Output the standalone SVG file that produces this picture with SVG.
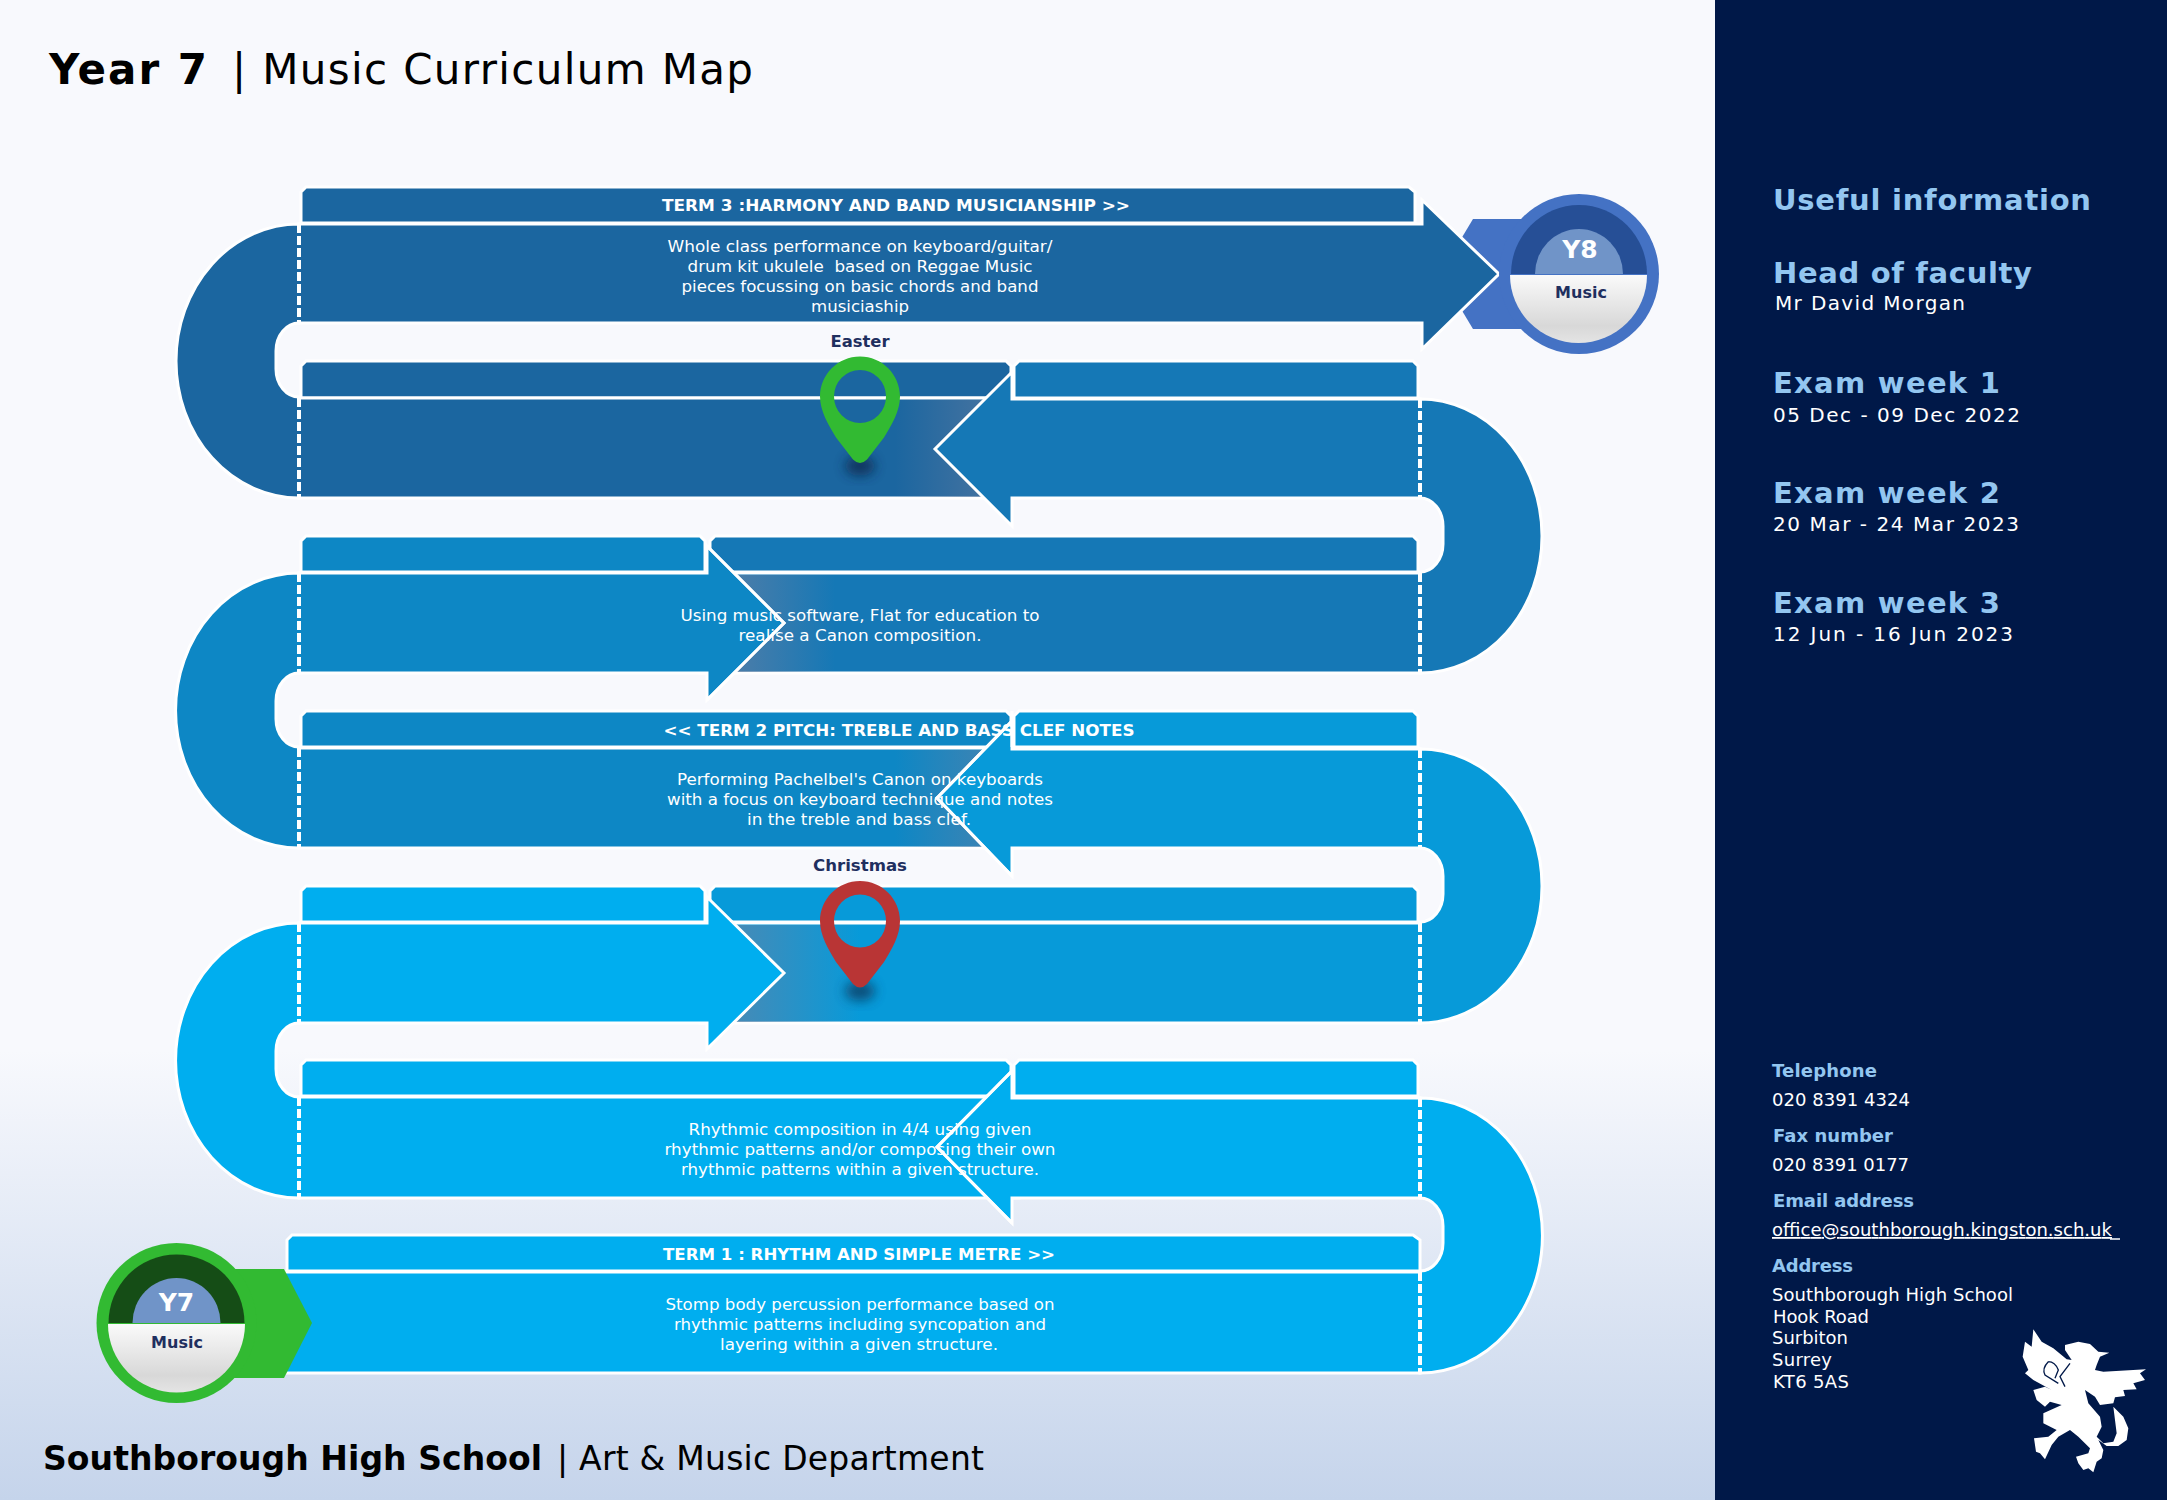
<svg xmlns="http://www.w3.org/2000/svg" width="2167" height="1500" viewBox="0 0 2167 1500">
<style>
text{font-family:"DejaVu Sans",Verdana,sans-serif;}
.w{fill:#fff;font-size:16.5px;}
.h{fill:#fff;font-size:16.5px;font-weight:bold;}
.d{fill:#1f2f5f;font-size:16.5px;font-weight:bold;}
.m{text-anchor:middle;}
.l1{fill:#93c6f0;font-size:29px;font-weight:bold;}
.l2{fill:#93c6f0;font-size:18px;font-weight:bold;}
.v1{fill:#fff;font-size:20px;}
.v2{fill:#fff;font-size:18px;}
.o{stroke:#fff;stroke-width:3;stroke-linejoin:miter;}
.ol{fill:none;stroke:#fff;stroke-width:3;}
.dash{fill:none;stroke:#fff;stroke-width:4;stroke-dasharray:9 3;}
.under{fill:none;stroke-width:4;}
.c1{fill:#1b66a0;}.c2{fill:#1578b6;}.c3{fill:#0d87c5;}.c4{fill:#079ad9;}.c5{fill:#00aeef;}
.y{fill:#fff;font-size:25px;font-weight:bold;text-anchor:middle;}
.mu{fill:#1f2f5f;font-size:16px;font-weight:bold;text-anchor:middle;}
</style>
<defs>
<linearGradient id="bg" x1="0" y1="0" x2="0" y2="1"><stop offset="0" stop-color="#f8f9fd"/><stop offset=".7" stop-color="#f8f9fd"/><stop offset="1" stop-color="#c5d4eb"/></linearGradient>
<linearGradient id="silver" x1="0" y1="0" x2="0" y2="1"><stop offset="0" stop-color="#fafafa"/><stop offset=".75" stop-color="#d8d8d8"/><stop offset="1" stop-color="#e4e4e4"/></linearGradient>
<linearGradient id="shL" x1="0" y1="0" x2="1" y2="0"><stop offset="0" stop-color="#7080a0" stop-opacity="0"/><stop offset="1" stop-color="#7080a0" stop-opacity=".6"/></linearGradient>
<linearGradient id="shR" x1="0" y1="0" x2="1" y2="0"><stop offset="0" stop-color="#7080a0" stop-opacity=".6"/><stop offset="1" stop-color="#7080a0" stop-opacity="0"/></linearGradient>
<filter id="blur" x="-50%" y="-50%" width="200%" height="200%"><feGaussianBlur stdDeviation="6"/></filter>
<path id="pin" fill-rule="evenodd" d="M860 881C882 881 900 899 900 921C900 935 892 949 884 962L867 984Q860 991 853 984L836 962C828 949 820 935 820 921C820 899 838 881 860 881ZM860 894.500A26 26.500 0 1 0 860.010 947.500A26 26.500 0 1 0 860 894.500Z"/>
</defs>
<rect id="page" width="1715" height="1500" fill="url(#bg)"/>
<rect id="panel" x="1715" width="452" height="1500" fill="#001848"/>
<g id="title">
<text x="49" y="84" font-size="42" font-weight="bold" textLength="158">Year 7</text>
<text x="232" y="84" font-size="42" textLength="521">| Music Curriculum Map</text>
</g>
<g id="connectors">
<path class="c1 o" d="M299 224A123 137 0 0 0 299 498V397A23 28 0 0 1 276 369V351A23 28 0 0 1 299 323Z"/>
<path class="c3 o" d="M299 573A123 137 0 0 0 299 848V747A23 28 0 0 1 276 719V701A23 28 0 0 1 299 673Z"/>
<path class="c5 o" d="M299 923A123 137 0 0 0 299 1198V1097A23 28 0 0 1 276 1069V1051A23 28 0 0 1 299 1023Z"/>
<path class="c2 o" d="M1420 399A122 137 0 0 1 1420 673V572A23 28 0 0 0 1443 544V526A23 28 0 0 0 1420 498Z"/>
<path class="c4 o" d="M1420 749A122 137 0 0 1 1420 1023V922A23 28 0 0 0 1443 894V876A23 28 0 0 0 1420 848Z"/>
<path class="c5 o" d="M1420 1098A122 137 0 0 1 1420 1373V1271A23 28 0 0 0 1443 1243V1226A23 28 0 0 0 1420 1198Z"/>
</g>
<g id="y8-tab"><polygon points="1473,219 1560,219 1560,329 1473,329 1440,274" fill="#4472c4"/></g>
<g id="term3">
<path class="c1 o" d="M301 223V192L306 187H1409L1415 192V223Z"/>
<path class="c1 o" d="M299 224H1422V200L1499 274L1422 349V323H299Z"/>
<text class="h m" x="896" y="211" textLength="468" lengthAdjust="spacingAndGlyphs">TERM 3 :HARMONY AND BAND MUSICIANSHIP &gt;&gt;</text>
<text class="w m" x="860" y="252" textLength="385" lengthAdjust="spacingAndGlyphs">Whole class performance on keyboard/guitar/</text>
<text class="w m" x="860" y="272" textLength="345" lengthAdjust="spacingAndGlyphs" xml:space="preserve">drum kit ukulele  based on Reggae Music</text>
<text class="w m" x="860" y="292" textLength="357" lengthAdjust="spacingAndGlyphs">pieces focussing on basic chords and band</text>
<text class="w m" x="860" y="312" textLength="98" lengthAdjust="spacingAndGlyphs">musiciaship</text>
</g>
<g id="easter"><text class="d m" x="860" y="347" textLength="59" lengthAdjust="spacingAndGlyphs">Easter</text></g>
<g id="row2">
<path class="c1 o" d="M301 398V366L306 361H1006L1011 366V398Z"/>
<rect class="c1 o" x="299" y="398" width="720" height="100"/>
<rect x="895" y="400" width="115" height="97" fill="url(#shL)"/>
<path class="c2 o" d="M1014 398V366L1019 361H1413L1418 366V398Z"/>
<path class="c2 o" d="M1420 399H1012V372L935 449L1012 526V498H1420Z"/>
</g>
<g id="row3">
<path class="c2 o" d="M710 572V541L715 536H1413L1418 541V572Z"/>
<rect class="c2 o" x="700" y="573" width="720" height="100"/>
<rect x="735" y="575" width="100" height="97" fill="url(#shR)"/>
<path class="c3 o" d="M301 572V541L306 536H700L705 541V572Z"/>
<path class="c3 o" d="M299 573H707V546L784 623L707 700V673H299Z"/>
<text class="w m" x="860" y="621" textLength="359" lengthAdjust="spacingAndGlyphs">Using music software, Flat for education to</text>
<text class="w m" x="860" y="641" textLength="243" lengthAdjust="spacingAndGlyphs">realise a Canon composition.</text>
<path class="ol" d="M707 546L784 623L707 700"/>
</g>
<g id="row4">
<path class="c3 o" d="M301 747V716L306 711H1006L1011 716V747Z"/>
<rect class="c3 o" x="299" y="748" width="720" height="100"/>
<rect x="895" y="750" width="115" height="97" fill="url(#shL)"/>
<path class="c4 o" d="M1014 747V716L1019 711H1413L1418 716V747Z"/>
<path class="c4 o" d="M1420 749H1012V721L937 798L1012 876V848H1420Z"/>
<text class="h m" x="899" y="736" textLength="471" lengthAdjust="spacingAndGlyphs">&lt;&lt; TERM 2 PITCH: TREBLE AND BASS CLEF NOTES</text>
<text class="w m" x="860" y="785" textLength="366" lengthAdjust="spacingAndGlyphs">Performing Pachelbel's Canon on keyboards</text>
<text class="w m" x="860" y="805" textLength="386" lengthAdjust="spacingAndGlyphs">with a focus on keyboard technique and notes</text>
<text class="w m" x="859" y="825" textLength="224" lengthAdjust="spacingAndGlyphs">in the treble and bass clef.</text>
<path class="ol" d="M1012 711V721L937 798L1012 876"/>
<path class="ol" d="M1012 721V747"/>
</g>
<g id="christmas"><text class="d m" x="860" y="871" textLength="94" lengthAdjust="spacingAndGlyphs">Christmas</text></g>
<g id="row5">
<path class="c4 o" d="M710 922V891L715 886H1413L1418 891V922Z"/>
<rect class="c4 o" x="700" y="923" width="720" height="100"/>
<rect x="735" y="925" width="125" height="97" fill="url(#shR)"/>
<path class="c5 o" d="M301 922V891L306 886H700L705 891V922Z"/>
<path class="c5 o" d="M299 923H707V897L784 973L707 1049V1023H299Z"/>
</g>
<g id="row6">
<path class="c5 o" d="M301 1096V1065L306 1060H1006L1011 1065V1096Z"/>
<rect class="c5 o" x="299" y="1097" width="720" height="101"/>
<path class="c5 o" d="M1014 1096V1065L1019 1060H1413L1418 1065V1096Z"/>
<path class="c5 o" d="M1420 1098H1012V1071L937 1147L1012 1223V1198H1420Z"/>
<text class="w m" x="860" y="1135" textLength="343" lengthAdjust="spacingAndGlyphs">Rhythmic composition in 4/4 using given</text>
<text class="w m" x="860" y="1155" textLength="391" lengthAdjust="spacingAndGlyphs">rhythmic patterns and/or composing their own</text>
<text class="w m" x="860" y="1175" textLength="358" lengthAdjust="spacingAndGlyphs">rhythmic patterns within a given structure.</text>
<path class="ol" d="M1012 1071L937 1147L1012 1223"/>
</g>
<g id="term1">
<rect class="c5 o" x="283" y="1272" width="1137" height="101"/>
<path class="c5 o" d="M287 1271V1240L292 1235H1413L1420 1240V1271Z"/>
<text class="h m" x="859" y="1260" textLength="392" lengthAdjust="spacingAndGlyphs">TERM 1 : RHYTHM AND SIMPLE METRE &gt;&gt;</text>
<text class="w m" x="860" y="1310" textLength="389" lengthAdjust="spacingAndGlyphs">Stomp body percussion performance based on</text>
<text class="w m" x="860" y="1330" textLength="372" lengthAdjust="spacingAndGlyphs">rhythmic patterns including syncopation and</text>
<text class="w m" x="859" y="1350" textLength="278" lengthAdjust="spacingAndGlyphs">layering within a given structure.</text>
</g>
<g id="dashes">
<path class="under" stroke="#1b66a0" d="M299 226V322M299 400V497"/>
<path class="under" stroke="#0d87c5" d="M299 575V672M299 750V847"/>
<path class="under" stroke="#00aeef" d="M299 925V1022M299 1099V1197"/>
<path class="under" stroke="#1578b6" d="M1420 401V497M1420 575V672"/>
<path class="under" stroke="#079ad9" d="M1420 751V847M1420 925V1022"/>
<path class="under" stroke="#00aeef" d="M1420 1100V1197M1420 1274V1372"/>
<path class="dash" d="M299 224V323M299 398V498M299 573V673M299 748V848M299 923V1023M299 1097V1198"/>
<path class="dash" d="M1420 399V498M1420 573V673M1420 749V848M1420 923V1023M1420 1098V1198M1420 1272V1373"/>
</g>
<g id="pin-easter">
<ellipse cx="860" cy="466" rx="15" ry="10" fill="#0a2a50" opacity=".8" filter="url(#blur)"/>
<use href="#pin" y="-524.500" fill="#32ba32"/>
</g>
<g id="pin-christmas">
<ellipse cx="860" cy="991" rx="15" ry="10" fill="#0a3a60" opacity=".8" filter="url(#blur)"/>
<use href="#pin" fill="#b93535"/>
</g>
<g id="y7">
<polygon points="200,1269 284,1269 312,1323 284,1378 200,1378" fill="#32ba32"/>
<circle cx="176.500" cy="1323" r="80" fill="#32ba32"/>
<path d="M108.500 1323A68 68.500 0 0 1 244.500 1323Z" fill="#154d16"/>
<path d="M132.500 1323A44 45 0 0 1 220.500 1323Z" fill="#7094c8"/>
<path d="M108 1324A68.500 68.500 0 0 0 245 1324Z" fill="url(#silver)"/>
<text class="y" x="176.500" y="1311">Y7</text>
<text class="mu" x="177" y="1348">Music</text>
</g>
<g id="y8">
<circle cx="1579" cy="274" r="80" fill="#4472c4"/>
<path d="M1511 274A68 69 0 0 1 1647 274Z" fill="#264f96"/>
<path d="M1535 274A44 45 0 0 1 1623 274Z" fill="#7094c8"/>
<path d="M1510 275A68.500 68 0 0 0 1647 275Z" fill="url(#silver)"/>
<text class="y" x="1580" y="258">Y8</text>
<text class="mu" x="1581" y="298">Music</text>
</g>
<g id="footer">
<text x="43" y="1470" font-size="33" font-weight="bold" textLength="499">Southborough High School</text>
<text x="557" y="1470" font-size="33" textLength="427">| Art &amp; Music Department</text>
</g>
<g id="useful">
<text class="l1" x="1773" y="210" textLength="318">Useful information</text>
<text class="l1" x="1773" y="283" textLength="259">Head of faculty</text>
<text class="v1" x="1775" y="310" textLength="190">Mr David Morgan</text>
<text class="l1" x="1773" y="393" textLength="227">Exam week 1</text>
<text class="v1" x="1773" y="422" textLength="247">05 Dec - 09 Dec 2022</text>
<text class="l1" x="1773" y="503" textLength="227">Exam week 2</text>
<text class="v1" x="1773" y="531" textLength="246">20 Mar - 24 Mar 2023</text>
<text class="l1" x="1773" y="613" textLength="227">Exam week 3</text>
<text class="v1" x="1773" y="641" textLength="240">12 Jun - 16 Jun 2023</text>
</g>
<g id="contact">
<text class="l2" x="1772" y="1077" textLength="105">Telephone</text>
<text class="v2" x="1772" y="1106" textLength="138">020 8391 4324</text>
<text class="l2" x="1773" y="1142" textLength="120">Fax number</text>
<text class="v2" x="1772" y="1171" textLength="137">020 8391 0177</text>
<text class="l2" x="1773" y="1207" textLength="141">Email address</text>
<text class="v2" x="1772" y="1236" textLength="340" text-decoration="underline">office@southborough.kingston.sch.uk</text>
<path d="M2110 1239H2120" stroke="#fff" stroke-width="1.500"/>
<text class="l2" x="1772" y="1272" textLength="81">Address</text>
<text class="v2" x="1772" y="1301" textLength="241">Southborough High School</text>
<text class="v2" x="1773" y="1323" textLength="96">Hook Road</text>
<text class="v2" x="1772" y="1344" textLength="76">Surbiton</text>
<text class="v2" x="1772" y="1366" textLength="60">Surrey</text>
<text class="v2" x="1773" y="1388" textLength="76">KT6 5AS</text>
</g>
<g id="griffin" transform="translate(1750 1040) scale(.33333)">
<path fill="#fff" d="M945 915L985 905L1020 912L1045 935L1078 938L1050 950L1040 975L1035 990L1060 995L1188 988L1170 1000L1185 1020L1150 1030L1160 1048L1120 1050L1125 1068L1095 1072L1090 1090L1050 1095L1035 1070L1005 1050L1015 1090L1050 1130L1055 1160L1040 1190L1060 1210L1090 1205L1100 1180L1090 1100L1120 1130L1135 1165L1130 1200L1105 1218L1070 1218L1045 1200L1060 1230L1055 1255L1040 1265L1030 1297L1015 1285L1000 1290L985 1270L978 1250L1015 1240L1020 1225L985 1190L960 1170L925 1190L905 1215L885 1258L870 1240L858 1235L852 1195L895 1190L920 1170L880 1150L880 1120L935 1095L900 1085L885 1100L860 1080L850 1050L885 1040L905 1050L850 1020L825 1000L835 990L818 950L825 905L845 920L850 868L875 905L910 925L950 958L965 960L945 930Z"/>
<path fill="none" stroke="#001848" stroke-width="4" d="M895 965Q875 985 885 1005L925 1030M895 965Q915 965 925 990L915 1015M960 970L930 1010L945 1040"/>
</g>
</svg>
